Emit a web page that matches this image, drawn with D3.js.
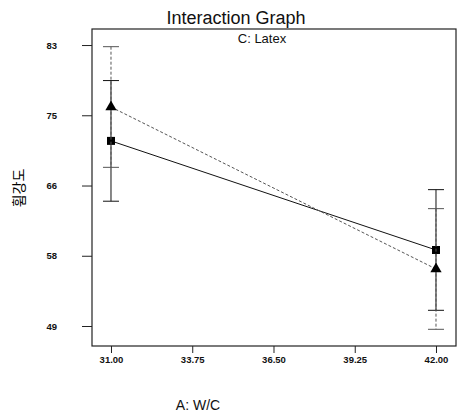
<!DOCTYPE html>
<html>
<head>
<meta charset="utf-8">
<script src="https://cdn.jsdelivr.net/npm/d3@7"></script>
<style>
  body { margin: 0; background: #fff; }
  text { font-family: "Liberation Sans", Arial, sans-serif; fill: #111; }
</style>
</head>
<body>
<div id="chart"></div>
<script>
// data
const wcLevels = [31, 42];
const latexLow = [71.7, 58.5];   // squares, solid line
const latexHigh = [75.8, 56.2];  // triangles, dashed line
const lsdHalf = 7.3;
const xTicks = [31, 33.75, 36.5, 39.25, 42];
const yTicks = [49.3, 57.8, 66.3, 74.8, 83.3];

const width = 458, height = 417;
const frame = { left: 92, right: 456, top: 29, bottom: 346 };

const svg = d3.select("#chart").append("svg")
  .attr("width", width).attr("height", height);

const x = d3.scaleLinear().domain([30.357, 42.677]).range([frame.left, frame.right]);
const y = d3.scaleLinear().domain([46.88, 85.24]).range([frame.bottom, frame.top]);

// frame
svg.append("rect")
  .attr("x", frame.left).attr("y", frame.top)
  .attr("width", frame.right - frame.left).attr("height", frame.bottom - frame.top)
  .attr("fill", "none").attr("stroke", "#222").attr("stroke-width", 1.2);

// axes
const yAxis = d3.axisLeft(y).tickValues(yTicks).tickSize(10).tickPadding(25)
  .tickFormat(d3.format(".0f"));
const gy = svg.append("g").attr("transform", `translate(${frame.left},0)`).call(yAxis);
gy.select(".domain").remove();
gy.selectAll("text").style("font-size", "9.5px").style("font-weight", "bold");

const xAxis = d3.axisBottom(x).tickValues(xTicks).tickSize(7).tickPadding(3)
  .tickFormat(d3.format(".2f"));
const gx = svg.append("g").attr("transform", `translate(0,${frame.bottom})`).call(xAxis);
gx.select(".domain").remove();
gx.selectAll("text").style("font-size", "9.5px").style("font-weight", "bold");
svg.selectAll(".tick line").attr("stroke", "#222");

// series
const series = [
  { name: "low", values: latexLow, dash: null, color: "#111", shape: d3.symbolSquare, size: 64 },
  { name: "high", values: latexHigh, dash: "3,2", color: "#555", shape: d3.symbolTriangle, size: 55 }
];

const line = d3.line().x((d, i) => x(wcLevels[i])).y(d => y(d));

series.forEach(s => {
  // error bars
  s.values.forEach((v, i) => {
    const cx = x(wcLevels[i]);
    svg.append("line")
      .attr("x1", cx).attr("x2", cx)
      .attr("y1", y(v + lsdHalf)).attr("y2", y(v - lsdHalf))
      .attr("stroke", s.color).attr("stroke-width", 1)
      .attr("stroke-dasharray", s.dash);
    [v + lsdHalf, v - lsdHalf].forEach(e => {
      svg.append("line")
        .attr("x1", cx - 8).attr("x2", cx + 8)
        .attr("y1", y(e)).attr("y2", y(e))
        .attr("stroke", s.color).attr("stroke-width", 1);
    });
  });
  svg.append("path").datum(s.values)
    .attr("d", line)
    .attr("fill", "none").attr("stroke", s.color).attr("stroke-width", 1)
    .attr("stroke-dasharray", s.dash);
  svg.selectAll(null).data(s.values).join("path")
    .attr("d", d3.symbol().type(s.shape).size(s.size))
    .attr("transform", (d, i) => `translate(${x(wcLevels[i])},${y(d)})`)
    .attr("fill", "#000");
});

// titles
svg.append("text").attr("x", 236).attr("y", 24).attr("text-anchor", "middle")
  .style("font-size", "18px").text("Interaction Graph");
svg.append("text").attr("x", 262).attr("y", 43).attr("text-anchor", "middle")
  .style("font-size", "13px").text("C: Latex");
svg.append("text").attr("x", 198).attr("y", 410).attr("text-anchor", "middle")
  .style("font-size", "14px").text("A: W/C");
svg.append("text")
  .attr("transform", "translate(24,188) rotate(-90)")
  .attr("text-anchor", "middle")
  .style("font-family", "'Noto Sans CJK KR', sans-serif")
  .style("fill", "#000")
  .style("font-size", "14px").text("휨강도");
</script>
</body>
</html>
